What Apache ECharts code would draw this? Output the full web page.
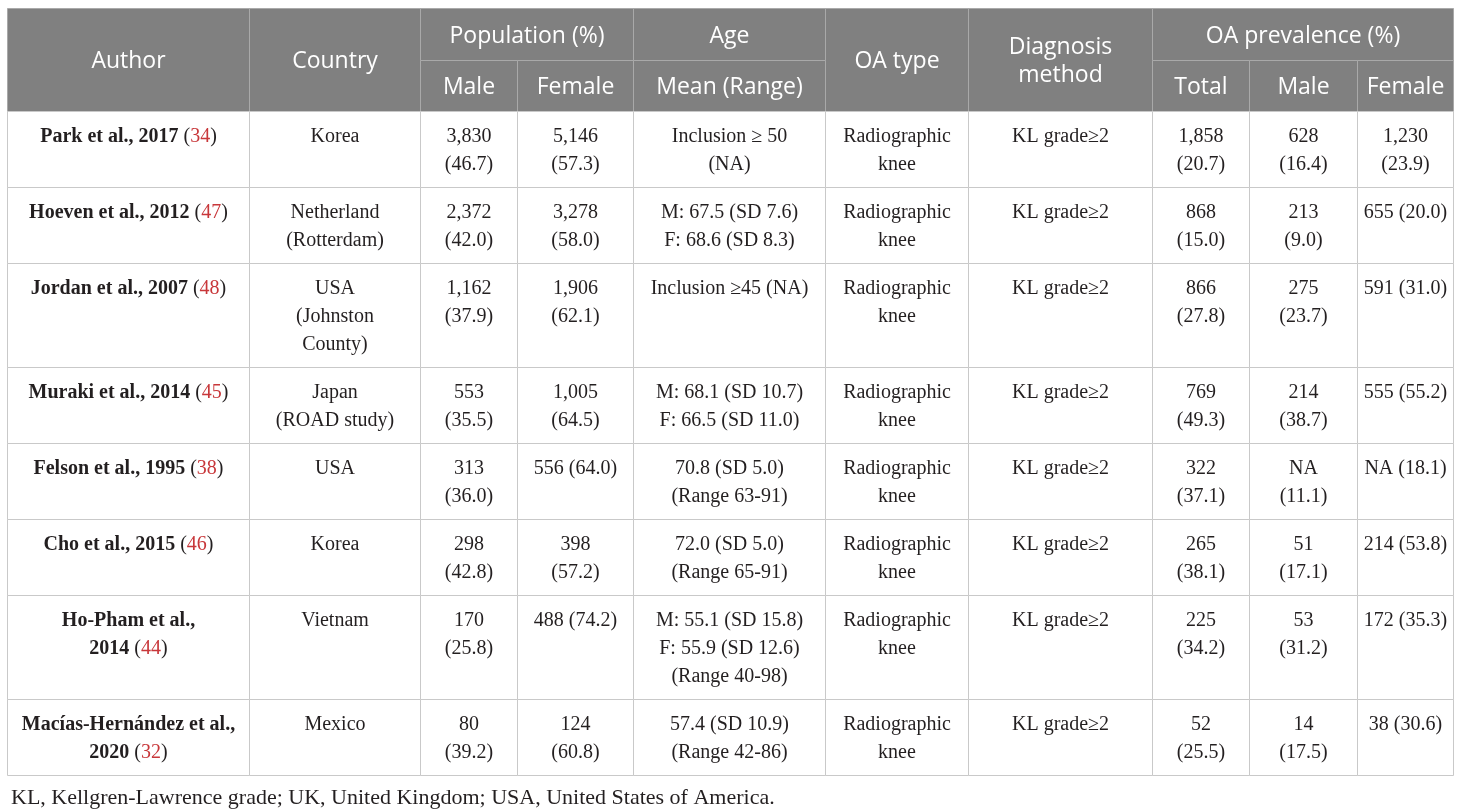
<!DOCTYPE html>
<html>
<head>
<meta charset="utf-8">
<script src="https://cdn.jsdelivr.net/npm/echarts@6/dist/echarts.min.js"></script>
<style>
html,body{margin:0;padding:0;background:#fff;}
#main{width:1460px;height:811px;}
</style>
</head>
<body>
<div id="main"></div>
<script>
// ---- data ----
const headerGroups = ['Population (%)', 'Age', 'OA prevalence (%)'];
const headerSingles = ['Author', 'Country', 'OA type', 'Diagnosis\nmethod'];
const headerSubs = ['Male', 'Female', 'Mean (Range)', 'Total', 'Male', 'Female'];

const authors = ['Park et al., 2017', 'Hoeven et al., 2012', 'Jordan et al., 2007', 'Muraki et al., 2014',
  'Felson et al., 1995', 'Cho et al., 2015', 'Ho-Pham et al.,\n2014', 'Macías-Hernández et al.,\n2020'];
const refs = ['34', '47', '48', '45', '38', '46', '44', '32'];
const countries = ['Korea', 'Netherland\n(Rotterdam)', 'USA\n(Johnston\nCounty)', 'Japan\n(ROAD study)',
  'USA', 'Korea', 'Vietnam', 'Mexico'];
const popMale = ['3,830\n(46.7)', '2,372\n(42.0)', '1,162\n(37.9)', '553\n(35.5)', '313\n(36.0)',
  '298\n(42.8)', '170\n(25.8)', '80\n(39.2)'];
const popFemale = ['5,146\n(57.3)', '3,278\n(58.0)', '1,906\n(62.1)', '1,005\n(64.5)', '556 (64.0)',
  '398\n(57.2)', '488 (74.2)', '124\n(60.8)'];
const ages = ['Inclusion ≥ 50\n(NA)', 'M: 67.5 (SD 7.6)\nF: 68.6 (SD 8.3)', 'Inclusion ≥45 (NA)',
  'M: 68.1 (SD 10.7)\nF: 66.5 (SD 11.0)', '70.8 (SD 5.0)\n(Range 63-91)', '72.0 (SD 5.0)\n(Range 65-91)',
  'M: 55.1 (SD 15.8)\nF: 55.9 (SD 12.6)\n(Range 40-98)', '57.4 (SD 10.9)\n(Range 42-86)'];
const oaTypes = ['Radiographic\nknee', 'Radiographic\nknee', 'Radiographic\nknee', 'Radiographic\nknee',
  'Radiographic\nknee', 'Radiographic\nknee', 'Radiographic\nknee', 'Radiographic\nknee'];
const diagnosis = ['KL grade≥2', 'KL grade≥2', 'KL grade≥2', 'KL grade≥2', 'KL grade≥2', 'KL grade≥2',
  'KL grade≥2', 'KL grade≥2'];
const prevTotal = ['1,858\n(20.7)', '868\n(15.0)', '866\n(27.8)', '769\n(49.3)', '322\n(37.1)',
  '265\n(38.1)', '225\n(34.2)', '52\n(25.5)'];
const prevMale = ['628\n(16.4)', '213\n(9.0)', '275\n(23.7)', '214\n(38.7)', 'NA\n(11.1)',
  '51\n(17.1)', '53\n(31.2)', '14\n(17.5)'];
const prevFemale = ['1,230\n(23.9)', '655 (20.0)', '591 (31.0)', '555 (55.2)', 'NA (18.1)',
  '214 (53.8)', '172 (35.3)', '38 (30.6)'];
const footnote = 'KL, Kellgren-Lawrence grade; UK, United Kingdom; USA, United States of America.';

// ---- layout (sizes only) ----
const colWidths = [242, 171, 97, 116, 192, 143, 184, 97, 108, 96];
const headH = [52, 51];
const lineH = 28, padTop = 10, padBottom = 10;
const SERIF = '"Liberation Serif", "DejaVu Serif", serif';
const SANS = '"Open Sans", "Noto Sans", sans-serif';
const bodySize = 20, headSize = 23;

const colX = [0];
colWidths.forEach(w => colX.push(colX[colX.length - 1] + w));
const totalW = colX[colX.length - 1];

const bodyCols = [null, countries, popMale, popFemale, ages, oaTypes, diagnosis, prevTotal, prevMale, prevFemale];
const nRows = authors.length;
const rowY = [headH[0] + headH[1]];
for (let r = 0; r < nRows; r++) {
  let lines = 2;
  bodyCols.forEach((arr, c) => {
    const t = c === 0 ? authors[r] : arr[r];
    lines = Math.max(lines, t.split('\n').length);
  });
  rowY.push(rowY[r] + padTop + padBottom + lines * lineH);
}
const totalH = rowY[rowY.length - 1];

// ---- cells ----
const cells = [];
[[0, headerSingles[0]], [1, headerSingles[1]], [5, headerSingles[2]], [6, headerSingles[3]]].forEach(([c, t]) => {
  cells.push({ x0: colX[c], x1: colX[c + 1], y0: 0, y1: headH[0] + headH[1], text: t, head: true });
});
[[2, 4, headerGroups[0]], [4, 5, headerGroups[1]], [7, 10, headerGroups[2]]].forEach(([a, b, t]) => {
  cells.push({ x0: colX[a], x1: colX[b], y0: 0, y1: headH[0], text: t, head: true });
});
[2, 3, 4, 7, 8, 9].forEach((c, i) => {
  cells.push({ x0: colX[c], x1: colX[c + 1], y0: headH[0], y1: headH[0] + headH[1], text: headerSubs[i], head: true });
});
for (let r = 0; r < nRows; r++) {
  for (let c = 0; c < colWidths.length; c++) {
    let text;
    if (c === 0) {
      text = authors[r].split('\n').map(s => '{b|' + s + '}').join('\n') + ' ({r|' + refs[r] + '})';
    } else {
      text = bodyCols[c][r];
    }
    cells.push({ x0: colX[c], x1: colX[c + 1], y0: rowY[r], y1: rowY[r + 1], text: text, head: false });
  }
}

const chart = echarts.init(document.getElementById('main'));
const baseTok = { fontFamily: SERIF, fontSize: bodySize, lineHeight: lineH, fill: '#231f20' };
chart.setOption({
  animation: false,
  title: {
    text: footnote, left: 6, top: 782,
    textStyle: { fontFamily: SERIF, fontSize: 22, fontWeight: 'normal', color: '#231f20' }
  },
  grid: { left: 7, top: 8, width: totalW, height: totalH },
  xAxis: { type: 'value', min: 0, max: totalW, show: false },
  yAxis: { type: 'value', min: 0, max: totalH, inverse: true, show: false },
  series: [{
    type: 'custom',
    coordinateSystem: 'cartesian2d',
    clip: false,
    data: cells.map(c => [c.x0, c.y0, c.x1, c.y1]),
    renderItem: function (params, api) {
      const c = cells[params.dataIndex];
      const p0 = api.coord([api.value(0), api.value(1)]);
      const p1 = api.coord([api.value(2), api.value(3)]);
      const x = Math.round(p0[0]) + 0.5, y = Math.round(p0[1]) + 0.5;
      const w = Math.round(p1[0]) - Math.round(p0[0]), h = Math.round(p1[1]) - Math.round(p0[1]);
      const rect = {
        type: 'rect',
        shape: { x: x, y: y, width: w, height: h },
        style: c.head ? { fill: '#808080', stroke: '#a9a9a9', lineWidth: 1 }
                      : { fill: '#ffffff', stroke: '#c9c9c9', lineWidth: 1 }
      };
      let txt;
      if (c.head) {
        txt = {
          type: 'text',
          style: {
            text: c.text, x: x + w / 2, y: y + h / 2 + 1.5, align: 'center', verticalAlign: 'middle',
            fontFamily: SANS, fontSize: headSize, lineHeight: lineH, fill: '#ffffff'
          }
        };
      } else {
        txt = {
          type: 'text',
          style: {
            text: c.text, x: x + w / 2, y: y + padTop + 1.5, align: 'center', verticalAlign: 'top',
            fontFamily: SERIF, fontSize: bodySize, lineHeight: lineH, fill: '#231f20',
            rich: {
              b: Object.assign({}, baseTok, { fontWeight: 'bold' }),
              r: Object.assign({}, baseTok, { fill: '#c8373a' })
            }
          }
        };
      }
      return { type: 'group', children: [rect, txt] };
    }
  }]
});
</script>
</body>
</html>
